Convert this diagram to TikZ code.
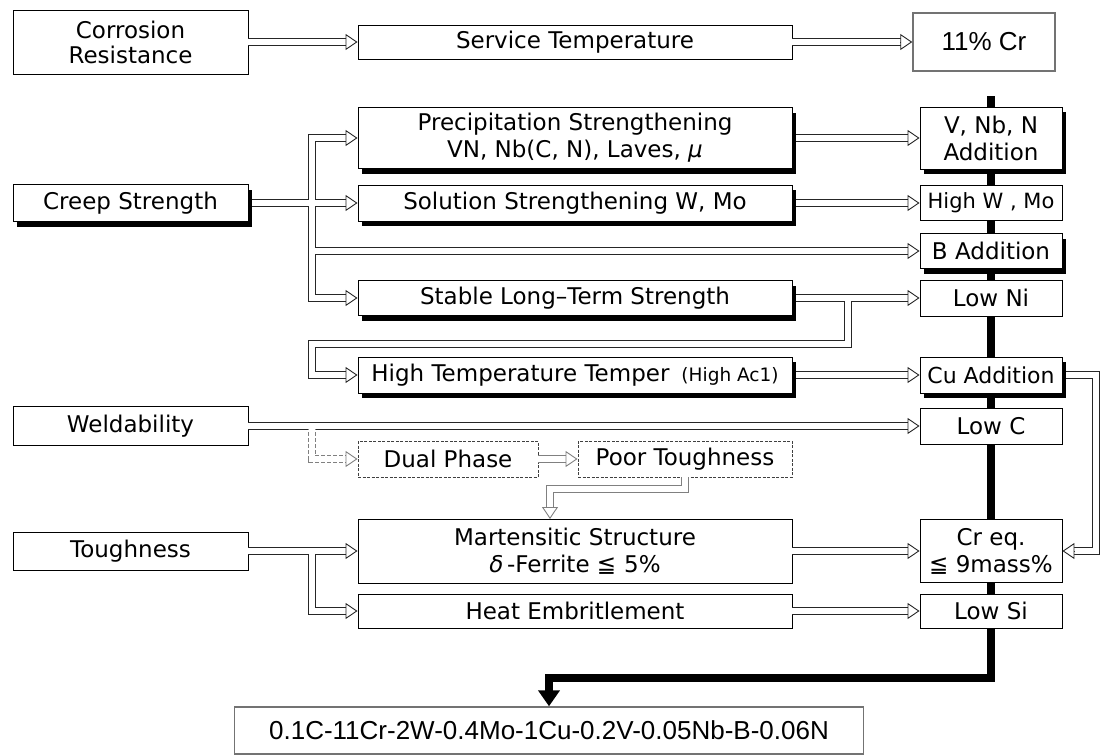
\documentclass[tikz,border=0pt]{standalone}
\usepackage{fontspec}
\setmainfont{DejaVu Sans}
\newfontfamily\arialf{Liberation Sans}
\usetikzlibrary{arrows.meta}
\tikzset{
  box/.style={draw=black, line width=0.9pt, fill=white, inner sep=0pt, align=center, font=\fontsize{23}{27}\selectfont},
  shbox/.style={box, preaction={fill=black, draw=none, transform canvas={xshift=4pt,yshift=-5pt}}},
  dbox/.style={box, draw=black!75, dash pattern=on 3pt off 1.5pt},
  gbox/.style={box, draw=black!55, line width=1.4pt, font=\arialf\fontsize{26}{30}\selectfont},
  lcol/.style={minimum width=235pt},
  mcol/.style={minimum width=434pt},
  rcol/.style={minimum width=142pt},
  tipst/.style={line width=0.9pt, draw=black!85, -{Triangle[fill=white, length=12pt, width=16pt]}},
  thickbar/.style={line width=8pt, -{Triangle[length=16pt, width=21pt]}},
}
\newcommand\tipR[2][]{\draw[tipst,#1] ([xshift=-12pt]#2) -- (#2);}
\newcommand\allpipes{%
  \draw[shorten >=11pt] (corr.east) -- (serv.west);
  \draw[shorten >=11pt] (serv.east) -- (cr.west);
  \draw[shorten >=11pt] ([xshift=4pt]creep.east) -- (sol.west);
  \draw[shorten >=11pt] (J1) |- (prec.west);
  \draw[shorten >=11pt] (J1) |- (stab.west);
  \draw[shorten >=11pt] (JB) -- (badd.west);
  \draw[shorten >=11pt] ([xshift=4pt]prec.east) -- (vnb.west);
  \draw[shorten >=11pt] ([xshift=4pt]sol.east) -- (hw.west);
  \draw[shorten >=11pt] ([xshift=4pt]stab.east) -- (lni.west);
  \draw[shorten >=11pt] (L1) -- (L2) -- (L3) |- (htt.west);
  \draw[shorten >=11pt] ([xshift=4pt]htt.east) -- (cu.west);
  \draw[shorten >=11pt] (weld.east) -- (lc.west);
  \draw[pdash, shorten >=11pt] (J2) |- (dual.west);
  \draw[plight, shorten >=11pt] (dual.east) -- (poor.west);
  \draw[plight, shorten >=11pt] (poor.south) |- (Pturn) -- (Mtop);
  \draw[shorten >=11pt] (tough.east) -- (mart.west);
  \draw[shorten >=11pt] (J3) |- (heat.west);
  \draw[shorten >=11pt] (mart.east) -- (creq.west);
  \draw[shorten >=11pt] (heat.east) -- (lsi.west);
  \draw[shorten >=11pt] ([xshift=4pt]cu.east) -- (F1) |- (creq.east);
}
\begin{document}
\begin{tikzpicture}[x=1pt, y=-1pt]
\fill[white] (0,0) rectangle (1101,755);
\useasboundingbox (0,0) rectangle (1101,755);

% coordinates
\coordinate (J1) at (312,203);
\coordinate (JB) at (312,251);
\coordinate (L1) at (848,298);
\coordinate (L2) at (848,344);
\coordinate (L3) at (312,344);
\coordinate (J2) at (312,426);
\coordinate (J3) at (312,551);
\coordinate (Pturn) at (550,489);
\coordinate (Mtop) at (550,519);
\coordinate (F1) at (1096,375);
\coordinate (bartop) at (991,96);
\coordinate (barturn) at (991,678);

% final box (needed for bar)
\node[gbox, minimum width=629pt, minimum height=47pt] (fin) at (549,730.5) {0.1C-11Cr-2W-0.4Mo-1Cu-0.2V-0.05Nb-B-0.06N};
\draw[thickbar] (bartop) -- (barturn) -| (fin.north);

% left column
\node[box, lcol, minimum height=64pt] (corr) at (130.5,42) {Corrosion\\[-2pt]Resistance};
\node[shbox, lcol, minimum height=37pt] (creep) at (130.5,203) {Creep Strength};
\node[box, lcol, minimum height=39pt] (weld) at (130.5,426) {Weldability};
\node[box, lcol, minimum height=38pt] (tough) at (130.5,551) {Toughness};

% middle column
\node[box, mcol, minimum height=34pt] (serv) at (575,42) {Service Temperature};
\node[shbox, mcol, minimum height=61pt] (prec) at (575,138) {Precipitation Strengthening\\VN, Nb(C, N), Laves, \textit{μ}};
\node[shbox, mcol, minimum height=36pt] (sol) at (575,203) {Solution Strengthening W, Mo};
\node[shbox, mcol, minimum height=35pt] (stab) at (575,298) {Stable Long–Term Strength};
\node[shbox, mcol, minimum height=36pt] (htt) at (575,375) {High Temperature Temper\hspace{12pt}{\fontsize{18.5}{21}\selectfont(High Ac1)}};
\node[dbox, minimum width=180pt, minimum height=36pt] (dual) at (448,459) {Dual Phase};
\node[dbox, minimum width=214pt, minimum height=36pt] (poor) at (685,459) {Poor Toughness};
\node[box, mcol, minimum height=64pt] (mart) at (575,551) {Martensitic Structure\\\textit{δ}\,-Ferrite ≦\hspace{8pt}5\%};
\node[box, mcol, minimum height=34pt] (heat) at (575,611) {Heat Embritlement};

% right column
\node[gbox, minimum width=142pt, minimum height=58pt] (cr) at (984,42) {11\% Cr};
\node[shbox, rcol, minimum height=62pt] (vnb) at (991,138) {V, Nb, N\\Addition};
\node[box, rcol, minimum height=35pt, font=\fontsize{21}{25}\selectfont] (hw) at (991,203) {High W , Mo};
\node[shbox, rcol, minimum height=35pt] (badd) at (991,251) {B Addition};
\node[box, rcol, minimum height=36pt] (lni) at (991,298) {Low Ni};
\node[shbox, rcol, minimum height=36pt, font=\fontsize{22}{26}\selectfont] (cu) at (991,375) {Cu Addition};
\node[box, rcol, minimum height=36pt] (lc) at (991,426) {Low C};
\node[box, rcol, minimum height=63pt] (creq) at (991,551) {Cr eq.\\≦ 9mass\%};
\node[box, rcol, minimum height=34pt] (lsi) at (991,611) {Low Si};

% pipes: outer pass then inner pass
\begin{scope}[line width=7.8pt, black!85, pdash/.style={draw=gray, dash pattern=on 4pt off 2pt}, plight/.style={draw=gray}]
\allpipes
\end{scope}
\begin{scope}[line width=6pt, white, pdash/.style={}, plight/.style={}]
\allpipes
\end{scope}

% arrow tips
\tipR{serv.west}
\tipR{cr.west}
\tipR{sol.west}
\tipR{prec.west}
\tipR{stab.west}
\tipR{badd.west}
\tipR{vnb.west}
\tipR{hw.west}
\tipR{lni.west}
\tipR{htt.west}
\tipR{cu.west}
\tipR{lc.west}
\tipR[draw=gray, dash pattern=on 2pt off 1pt]{dual.west}
\tipR[draw=gray]{poor.west}
\tipR{mart.west}
\tipR{heat.west}
\tipR{creq.west}
\tipR{lsi.west}
\draw[tipst, draw=gray] ([yshift=12pt]Mtop) -- (Mtop);
\draw[tipst] ([xshift=12pt]creq.east) -- (creq.east);
\end{tikzpicture}
\end{document}
